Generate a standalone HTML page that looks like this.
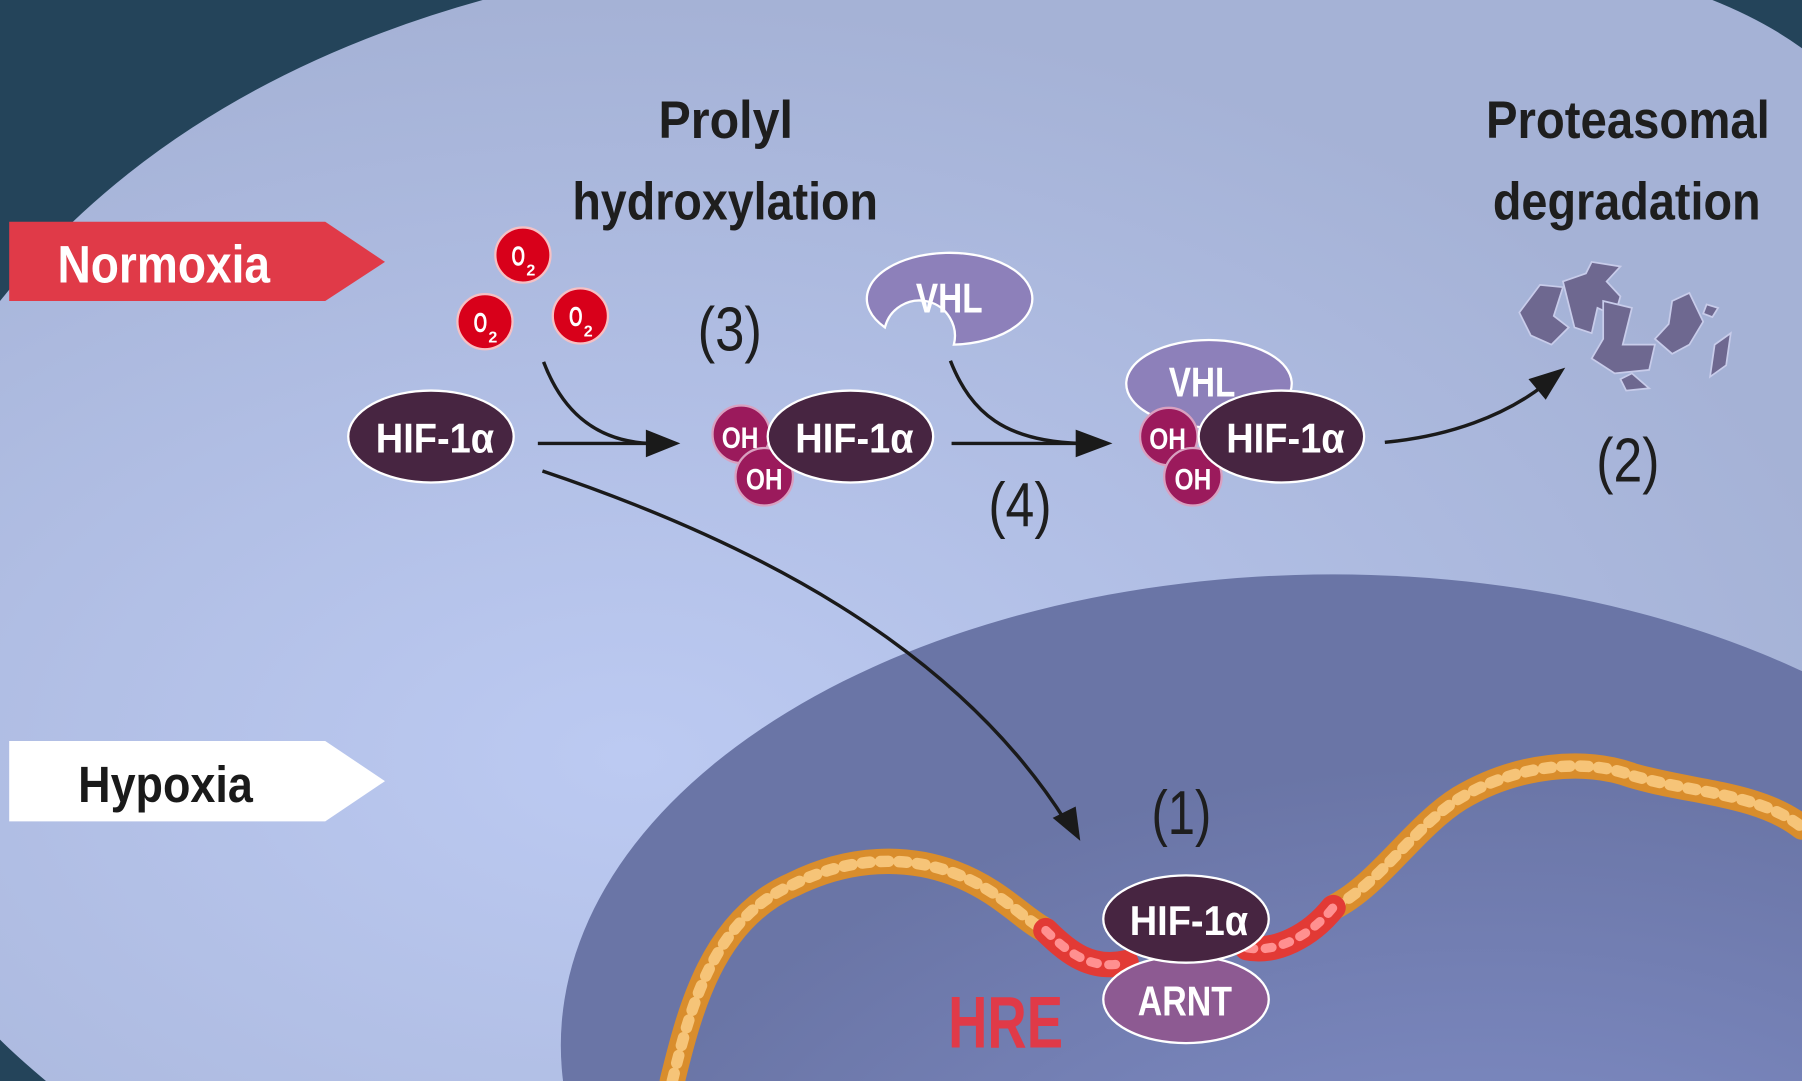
<!DOCTYPE html>
<html><head><meta charset="utf-8"><style>
html,body{margin:0;padding:0;background:#24445a;width:1802px;height:1081px;overflow:hidden;}
svg{display:block;}
text{font-family:"Liberation Sans",sans-serif;font-weight:bold;}
</style></head><body>
<svg width="1802" height="1081" viewBox="0 0 1568 941" preserveAspectRatio="none" xmlns="http://www.w3.org/2000/svg">
<defs>
<radialGradient id="cell" cx="0.35" cy="0.7" r="0.7">
<stop offset="0" stop-color="#bccaf2"/><stop offset="1" stop-color="#a5b2d6"/></radialGradient>
<radialGradient id="nuc" cx="0.6" cy="0.8" r="0.6">
<stop offset="0" stop-color="#8492cc"/><stop offset="1" stop-color="#6a75a6"/></radialGradient>
</defs>
<rect width="1568" height="941" fill="#24445a"/>
<path d="M0,262 Q150,75 420,0 L1490,0 Q1535,18 1568,42 L1568,941 L40,941 Q15,920 0,905 Z" fill="url(#cell)"/>
<ellipse cx="1160" cy="910" rx="672" ry="410" fill="url(#nuc)"/>

<!-- banners -->
<polygon points="8,193 283,193 335,228 283,262 8,262" fill="#e03a48"/>
<text x="50" y="246" font-size="46" fill="#fff" textLength="185" lengthAdjust="spacingAndGlyphs">Normoxia</text>
<polygon points="8,645 283,645 335,680 283,715 8,715" fill="#fff"/>
<text x="68" y="698" font-size="44" fill="#1a1a1a" textLength="152" lengthAdjust="spacingAndGlyphs">Hypoxia</text>

<!-- titles -->
<g fill="#1e1e1e" font-size="46">
<text x="573" y="120" textLength="117" lengthAdjust="spacingAndGlyphs">Prolyl</text>
<text x="498" y="191" textLength="266" lengthAdjust="spacingAndGlyphs">hydroxylation</text>
<text x="1293" y="120" textLength="247" lengthAdjust="spacingAndGlyphs">Proteasomal</text>
<text x="1299" y="191" textLength="233" lengthAdjust="spacingAndGlyphs">degradation</text>
</g>
<g fill="#1e1e1e" font-size="54" font-weight="normal">
<text x="607" y="305" textLength="56" lengthAdjust="spacingAndGlyphs" style="font-weight:normal">(3)</text>
<text x="860" y="458" textLength="55" lengthAdjust="spacingAndGlyphs" style="font-weight:normal">(4)</text>
<text x="1389" y="419" textLength="55" lengthAdjust="spacingAndGlyphs" style="font-weight:normal">(2)</text>
<text x="1002" y="726" textLength="52" lengthAdjust="spacingAndGlyphs" style="font-weight:normal">(1)</text>
</g>

<!-- O2 -->
<g stroke="#f6c0c4" stroke-width="2" fill="#d8001a">
<circle cx="455" cy="222" r="24"/><circle cx="422" cy="280" r="24"/><circle cx="505" cy="275" r="24"/>
</g>
<g fill="#fff" font-size="24">
<text x="445" y="231" textLength="12" lengthAdjust="spacingAndGlyphs">O</text><text x="458" y="240" font-size="14">2</text>
<text x="412" y="289" textLength="12" lengthAdjust="spacingAndGlyphs">O</text><text x="425" y="298" font-size="14">2</text>
<text x="495" y="284" textLength="12" lengthAdjust="spacingAndGlyphs">O</text><text x="508" y="293" font-size="14">2</text>
</g>

<!-- arrows -->
<g fill="none" stroke="#1a1a1a" stroke-width="3">
<path d="M468,386 L575,386"/>
<path d="M473,315 C490,360 520,384 565,386"/>
<path d="M828,386 L950,386"/>
<path d="M827,314 C845,360 875,384 940,386"/>
<path d="M1205,385 C1260,380 1310,362 1345,334"/>
<path d="M472,410 C650,470 830,560 928,716"/>
</g>
<g fill="#1a1a1a">
<polygon points="592,386 562,374 562,398"/>
<polygon points="968,386 936,374 936,398"/>
<polygon points="1362,320 1330,330 1345,348"/>
<polygon points="940,732 916,712 936,702"/>
</g>

<!-- HIF 1 -->
<ellipse cx="375" cy="380" rx="72" ry="40" fill="#472541" stroke="#fff" stroke-width="2"/>
<text x="327" y="394" font-size="36" fill="#fff" textLength="103" lengthAdjust="spacingAndGlyphs">HIF-1α</text>

<!-- OH HIF 2 -->
<g fill="#9b1a5c" stroke="#d9a0c0" stroke-width="2">
<circle cx="645" cy="378" r="25"/><circle cx="665" cy="415" r="25"/></g>
<g fill="#fff" font-size="26">
<text x="628" y="390" textLength="32" lengthAdjust="spacingAndGlyphs">OH</text><text x="649" y="426" textLength="32" lengthAdjust="spacingAndGlyphs">OH</text></g>
<ellipse cx="740" cy="380" rx="72" ry="40" fill="#472541" stroke="#fff" stroke-width="2"/>
<text x="692" y="394" font-size="36" fill="#fff" textLength="103" lengthAdjust="spacingAndGlyphs">HIF-1α</text>

<!-- VHL free -->
<path d="M770,285 A72,40 0 1 1 830,300 A22,22 0 0 0 770,285 Z" fill="#8d80ba" stroke="#fff" stroke-width="2"/>
<text x="797" y="272" font-size="36" fill="#fff" textLength="58" lengthAdjust="spacingAndGlyphs">VHL</text>

<!-- complex -->
<ellipse cx="1052" cy="334" rx="72" ry="38" fill="#8d80ba" stroke="#fff" stroke-width="2"/>
<text x="1017" y="345" font-size="36" fill="#fff" textLength="58" lengthAdjust="spacingAndGlyphs">VHL</text>
<g fill="#9b1a5c" stroke="#d9a0c0" stroke-width="2">
<circle cx="1017" cy="380" r="25"/><circle cx="1038" cy="415" r="25"/></g>
<g fill="#fff" font-size="26">
<text x="1000" y="391" textLength="32" lengthAdjust="spacingAndGlyphs">OH</text><text x="1022" y="426" textLength="32" lengthAdjust="spacingAndGlyphs">OH</text></g>
<ellipse cx="1115" cy="380" rx="72" ry="40" fill="#472541" stroke="#fff" stroke-width="2"/>
<text x="1067" y="394" font-size="36" fill="#fff" textLength="103" lengthAdjust="spacingAndGlyphs">HIF-1α</text>

<!-- fragments -->
<g fill="#6e6890" stroke="#c8ccea" stroke-width="1.5">
<polygon points="1322,272 1340,248 1360,250 1352,275 1365,285 1350,300 1332,292"/>
<polygon points="1360,245 1380,238 1385,228 1410,232 1398,245 1410,258 1405,275 1390,268 1385,290 1370,285"/>
<polygon points="1395,262 1420,268 1412,300 1440,300 1435,322 1405,325 1385,312 1395,295"/>
<polygon points="1455,262 1470,255 1482,280 1470,300 1455,308 1440,295 1452,282"/>
<polygon points="1485,265 1495,268 1490,276 1482,273"/>
<polygon points="1492,300 1506,290 1502,318 1488,328"/>
<polygon points="1410,330 1420,325 1435,338 1415,340"/>
</g>

<!-- DNA -->
<g fill="none" stroke-linecap="round">
<path d="M585,941 C600,880 620,800 690,770 C740,745 790,745 830,760 C870,775 890,800 910,810" stroke="#d98d2c" stroke-width="22"/>
<path d="M585,941 C600,880 620,800 690,770 C740,745 790,745 830,760 C870,775 890,800 910,810" stroke="#f6c478" stroke-width="10" stroke-dasharray="7 9"/>
<path d="M1160,790 C1200,770 1230,720 1270,695 C1320,665 1380,660 1420,675 C1470,690 1530,690 1568,720" stroke="#d98d2c" stroke-width="22"/>
<path d="M1160,790 C1200,770 1230,720 1270,695 C1320,665 1380,660 1420,675 C1470,690 1530,690 1568,720" stroke="#f6c478" stroke-width="10" stroke-dasharray="7 9"/>
<path d="M910,810 C930,830 950,845 980,838" stroke="#e23a35" stroke-width="22"/>
<path d="M1085,825 C1110,830 1140,815 1160,790" stroke="#e23a35" stroke-width="22"/>
<path d="M910,810 C930,830 950,845 980,838 M1085,825 C1110,830 1140,815 1160,790" stroke="#ff9090" stroke-width="8" stroke-dasharray="6 10"/>
</g>
<text x="825" y="912" font-size="64" fill="#e03a48" textLength="100" lengthAdjust="spacingAndGlyphs">HRE</text>
<ellipse cx="1032" cy="870" rx="72" ry="38" fill="#8d5a92" stroke="#fff" stroke-width="2"/>
<text x="990" y="884" font-size="36" fill="#fff" textLength="82" lengthAdjust="spacingAndGlyphs">ARNT</text>
<ellipse cx="1032" cy="800" rx="72" ry="38" fill="#472541" stroke="#fff" stroke-width="2"/>
<text x="983" y="814" font-size="36" fill="#fff" textLength="103" lengthAdjust="spacingAndGlyphs">HIF-1α</text>
</svg>
</body></html>
